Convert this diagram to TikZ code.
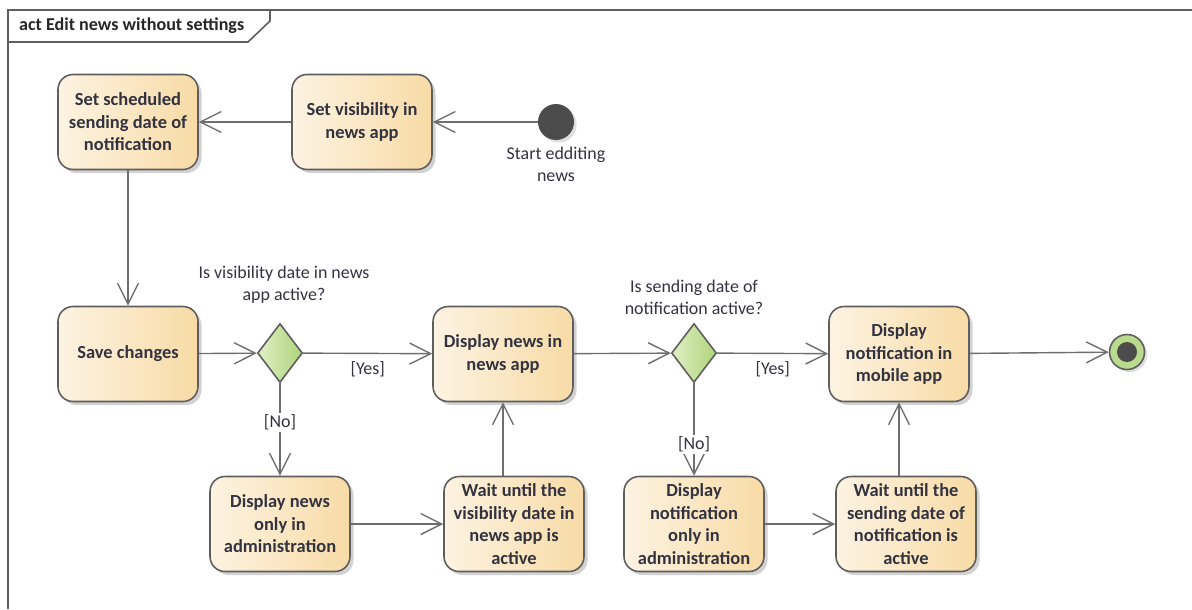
\documentclass[tikz,border=0pt]{standalone}
\usepackage{fontspec}
\setmainfont{Carlito}
\usepackage{xcolor}
\usetikzlibrary{shapes.geometric,arrows.meta,shadows}

\definecolor{boxleft}{HTML}{FDF3E2}
\definecolor{boxright}{HTML}{F8DBA6}
\definecolor{decleft}{HTML}{E0EFC6}
\definecolor{decright}{HTML}{AED47A}
\definecolor{edge}{HTML}{5E5E5E}
\definecolor{wire}{HTML}{6E6E6E}
\definecolor{inktext}{HTML}{333340}

\tikzset{
  action/.style={draw=edge,line width=0.9pt,rounded corners=0.3cm,
    left color=boxleft,right color=boxright,
    drop shadow={shadow xshift=2pt,shadow yshift=-2pt,fill=black!35},
    minimum width=2.8cm,minimum height=1.9cm,align=center,
    font=\fontsize{10.5}{12.8}\selectfont\bfseries,text=inktext,inner sep=2pt},
  decision/.style={diamond,draw=edge,line width=0.9pt,
    left color=decleft,right color=decright,
    minimum width=0.9cm,minimum height=1.18cm,inner sep=0pt},
  flow/.style={draw=wire,line width=0.8pt,-{Straight Barb[length=0.42cm,width=0.42cm]}},
  guard/.style={font=\fontsize{10.2}{12.6}\selectfont,text=inktext,align=center}
}

\begin{document}
\begin{tikzpicture}[x=0.02cm,y=-0.02cm]
\useasboundingbox (0,0) rectangle (1192,609);

% frame
\draw[edge,line width=1.1pt] (8,609) -- (8,10) -- (1192,10);
\draw[edge,line width=0.9pt] (8,42) -- (248,42) -- (270,21) -- (270,10);
\node[anchor=west,font=\fontsize{10.3}{12}\selectfont\bfseries,text=black!85] (title) at (13,26) {act Edit news without settings};

% upper row
\node[action] (setsched) at (128,122) {Set scheduled\\sending date of\\notification};
\node[action] (setvis) at (362,122) {Set visibility in\\news app};
\node[circle,fill=black!70,minimum size=0.72cm,inner sep=0pt,
  drop shadow={shadow xshift=1.5pt,shadow yshift=-1.5pt,fill=black!25}] (start) at (556,122) {};
\node[guard,below=0pt] (startlbl) at (start.south) {Start edditing\\news};

% middle row
\node[action] (save) at (128,354) {Save changes};
\node[decision] (dec1) at (280,353) {};
\node[guard] (q1) at (284,285) {Is visibility date in news\\app active?};
\node[action] (dispnews) at (503,354) {Display news in\\news app};
\node[decision] (dec2) at (694,353) {};
\node[guard] (q2) at (694,297) {Is sending date of\\notification active?};
\node[action] (dispnotif) at (899,354) {Display\\notification in\\mobile app};
\node[circle,draw=edge,line width=0.9pt,fill=decright!85,minimum size=0.7cm,inner sep=0pt,
  drop shadow={shadow xshift=1.5pt,shadow yshift=-1.5pt,fill=black!25}] (final) at (1127,352) {};
\fill[black!70] (final.center) circle (0.2cm);

% lower row
\node[action] (adminnews) at (280,524) {Display news\\only in\\administration};
\node[action] (waitvis) at (514,524) {Wait until the\\visibility date in\\news app is\\active};
\node[action] (adminnotif) at (694,524) {Display\\notification\\only in\\administration};
\node[action] (waitsend) at (906,524) {Wait until the\\sending date of\\notification is\\active};

% connectors
\draw[flow] (start) -- (setvis);
\draw[flow] (setvis) -- (setsched);
\draw[flow] (setsched) -- (save);
\draw[flow] (save) -- (dec1);
\draw[flow] (dec1) -- node[guard,below=1pt] {[Yes]} (dispnews);
\draw[flow] (dec1) -- node[guard,fill=white,inner sep=1pt,pos=0.42] {[No]} (adminnews);
\draw[flow] (adminnews) -- (waitvis);
\draw[flow] (waitvis.north -| dispnews.south) -- (dispnews.south);
\draw[flow] (dispnews) -- (dec2);
\draw[flow] (dec2) -- node[guard,below=1pt] {[Yes]} (dispnotif);
\draw[flow] (dec2) -- node[guard,fill=white,inner sep=1pt,pos=0.66] {[No]} (adminnotif);
\draw[flow] (adminnotif) -- (waitsend);
\draw[flow] (waitsend.north -| dispnotif.south) -- (dispnotif.south);
\draw[flow] (dispnotif) -- (final);
\end{tikzpicture}
\end{document}
